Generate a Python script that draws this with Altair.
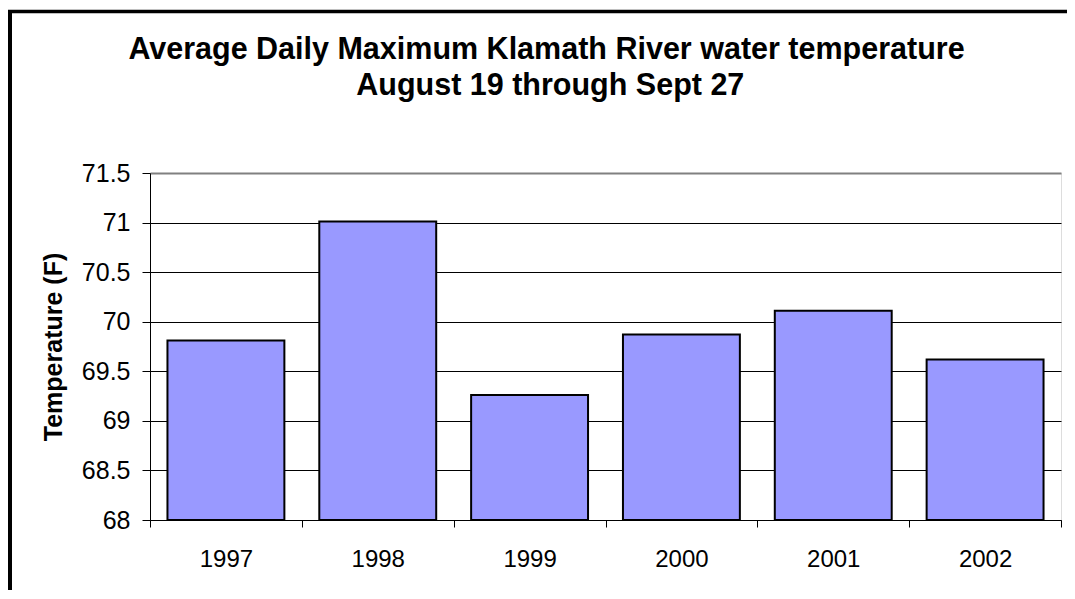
import altair as alt
import pandas as pd

years = ["1997", "1998", "1999", "2000", "2001", "2002"]
temps = [69.81, 71.01, 69.26, 69.87, 70.11, 69.62]
y_ticks = [68, 68.5, 69, 69.5, 70, 70.5, 71, 71.5]
title_lines = ["Average Daily Maximum Klamath River water temperature",
               "August 19 through Sept 27"]
y_title = "Temperature (F)"
y_base = 68

FONT = "Liberation Sans"

df = pd.DataFrame({"year": years, "temp": temps})
one = pd.DataFrame({"k": [0]})

bars = alt.Chart(df).mark_bar(
    width={"band": 0.77}, color="#9999FF", stroke="#000000", strokeWidth=2
).encode(
    x=alt.X("year:N", sort=None,
            scale=alt.Scale(paddingInner=0, paddingOuter=0),
            axis=alt.Axis(title=None, labelAngle=0, tickBand="extent", tickSize=7,
                          labelPadding=39, labelBaseline="alphabetic", labelFontSize=24,
                          labelFont=FONT, labelColor="#000000", domainColor="#000000",
                          tickColor="#000000", grid=False)),
    y=alt.Y("temp:Q",
            scale=alt.Scale(domain=[68, 71.5], nice=False, zero=False),
            axis=alt.Axis(values=y_ticks, format="~g", title=y_title,
                          titleFontSize=25, titleFont=FONT, titleFontWeight="bold",
                          titleColor="#000000", titleX=-89, titleY=173.5, titleAngle=270,
                          titleAlign="center", titleBaseline="alphabetic",
                          labelFontSize=25, labelFont=FONT, labelColor="#000000",
                          labelPadding=12, tickSize=8, tickColor="#000000",
                          domainColor="#000000",
                          grid=True,
                          gridColor={"condition": {"test": "datum.value >= 71.5", "value": "#808080"},
                                     "value": "#000000"},
                          gridWidth={"condition": {"test": "datum.value >= 71.5", "value": 2},
                                     "value": 1})),
    y2=alt.datum(y_base),
)

t1 = alt.Chart(one).mark_text(
    font=FONT, fontSize=30.5, fontWeight="bold", color="#000000",
    align="center", baseline="alphabetic"
).encode(x=alt.value(396.5), y=alt.value(-113.7), text=alt.value(title_lines[0]))

t2 = alt.Chart(one).mark_text(
    font=FONT, fontSize=30.5, fontWeight="bold", color="#000000",
    align="center", baseline="alphabetic"
).encode(x=alt.value(400.3), y=alt.value(-77.7), text=alt.value(title_lines[1]))

left_border = alt.Chart(one).mark_rule(color="#000000", strokeWidth=5).encode(
    x=alt.value(-140.5), y=alt.value(-163), y2=alt.value(430))
top_border = alt.Chart(one).mark_rule(color="#000000", strokeWidth=3.5).encode(
    y=alt.value(-161.5), x=alt.value(-143), x2=alt.value(925))
top_light = alt.Chart(one).mark_rule(color="#d0d0d0", strokeWidth=1).encode(
    y=alt.value(-165.5), x=alt.value(-150), x2=alt.value(925))

chart = alt.layer(bars, t1, t2, top_light, left_border, top_border).properties(
    width=911, height=347,
    padding={"left": 142, "top": 165, "right": 6, "bottom": 70},
    autosize=alt.AutoSizeParams(type="none"),
).configure_view(stroke="#808080", strokeWidth=2).configure(font=FONT)

chart.save("out.html", embed_options={"renderer": "svg", "actions": False})
